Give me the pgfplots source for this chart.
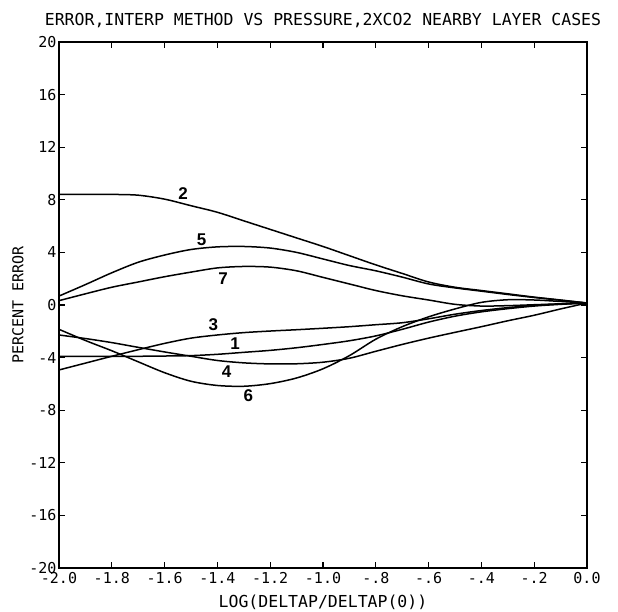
\documentclass[border=0pt]{standalone}
\usepackage{fontspec}
\setmainfont{DejaVu Sans Mono}
\newfontfamily\labfont{Liberation Sans}
\usepackage{pgfplots}
\pgfplotsset{compat=1.18}
\usetikzlibrary{calc}

\begin{document}
\begin{tikzpicture}
\begin{axis}[
  scale only axis,
  width=528pt, height=526pt,
  xmin=-2, xmax=0, ymin=-20, ymax=20,
  xtick={-2,-1.8,-1.6,-1.4,-1.2,-1,-0.8,-0.6,-0.4,-0.2,0},
  xticklabels={-2.0,-1.8,-1.6,-1.4,-1.2,-1.0,-.8,-.6,-.4,-.2,0.0},
  ytick={-20,-16,-12,-8,-4,0,4,8,12,16,20},
  yticklabels={-20,-16,-12,-8,-4,0,4,8,12,16,20},
  tick label style={font=\fontsize{15}{18}\selectfont},
  xticklabel style={yshift=-1pt},
  yticklabel style={xshift=1pt},
  major tick length=6pt,
  tick style={line width=1.2pt, black},
  axis line style={line width=1.6pt},
  title={ERROR,INTERP METHOD VS PRESSURE,2XCO2 NEARBY LAYER CASES},
  title style={font=\fontsize{16.5}{20}\selectfont, at={(axis description cs:0.5,1.03)}, anchor=center},
  xlabel={LOG(DELTAP/DELTAP(0))},
  xlabel style={font=\fontsize{16.5}{20}\selectfont, at={(axis description cs:0.5,-0.066)}, anchor=center},
  ylabel={PERCENT ERROR},
  ylabel style={font=\fontsize{15}{18}\selectfont, at={(axis description cs:-0.078,0.5)}, anchor=center},
  cycle list={{black,solid,mark=none}},
  every axis plot/.append style={line width=1.5pt, smooth},
]
% curve 2
\addplot coordinates {(-2.0,8.42) (-1.9,8.42) (-1.8,8.41) (-1.7,8.35) (-1.6,8.05) (-1.5,7.55) (-1.4,7.05) (-1.3,6.4) (-1.2,5.75) (-1.1,5.1) (-1.0,4.45) (-0.9,3.75) (-0.8,3.05) (-0.7,2.4) (-0.6,1.75) (-0.5,1.35) (-0.4,1.1) (-0.3,0.85) (-0.2,0.6) (-0.1,0.38) (0,0.15)};
% curve 5
\addplot coordinates {(-2.0,0.68) (-1.9,1.55) (-1.8,2.45) (-1.7,3.25) (-1.6,3.8) (-1.5,4.22) (-1.4,4.42) (-1.3,4.45) (-1.2,4.33) (-1.1,4.0) (-1.0,3.5) (-0.9,3.0) (-0.8,2.6) (-0.7,2.12) (-0.6,1.6) (-0.5,1.3) (-0.4,1.05) (-0.3,0.8) (-0.2,0.57) (-0.1,0.36) (0,0.15)};
% curve 7
\addplot coordinates {(-2.0,0.33) (-1.9,0.85) (-1.8,1.35) (-1.7,1.75) (-1.6,2.15) (-1.5,2.5) (-1.4,2.82) (-1.3,2.93) (-1.2,2.88) (-1.1,2.6) (-1.0,2.1) (-0.9,1.6) (-0.8,1.1) (-0.7,0.7) (-0.6,0.38) (-0.5,0.05) (-0.4,-0.08) (-0.3,-0.05) (-0.2,0.02) (-0.1,0.09) (0,0.15)};
% curve 3
\addplot coordinates {(-2.0,-4.94) (-1.9,-4.42) (-1.8,-3.9) (-1.7,-3.4) (-1.6,-2.92) (-1.5,-2.52) (-1.4,-2.28) (-1.3,-2.1) (-1.2,-1.98) (-1.1,-1.88) (-1.0,-1.77) (-0.9,-1.65) (-0.8,-1.5) (-0.7,-1.35) (-0.6,-1.05) (-0.5,-0.7) (-0.4,-0.42) (-0.3,-0.2) (-0.2,-0.03) (-0.1,0.08) (0,0.15)};
% curve 1
\addplot coordinates {(-2.0,-3.9) (-1.9,-3.9) (-1.8,-3.9) (-1.7,-3.9) (-1.6,-3.88) (-1.5,-3.85) (-1.4,-3.75) (-1.3,-3.6) (-1.2,-3.45) (-1.1,-3.25) (-1.0,-3.0) (-0.9,-2.72) (-0.8,-2.35) (-0.7,-1.85) (-0.6,-1.3) (-0.5,-0.85) (-0.4,-0.52) (-0.3,-0.28) (-0.2,-0.08) (-0.1,0.05) (0,0.15)};
% curve 4
\addplot coordinates {(-2.0,-2.28) (-1.9,-2.55) (-1.8,-2.86) (-1.7,-3.22) (-1.6,-3.57) (-1.5,-3.9) (-1.4,-4.22) (-1.3,-4.4) (-1.2,-4.48) (-1.1,-4.47) (-1.0,-4.35) (-0.9,-4.05) (-0.8,-3.52) (-0.7,-3.0) (-0.6,-2.52) (-0.5,-2.08) (-0.4,-1.65) (-0.3,-1.2) (-0.2,-0.78) (-0.1,-0.3) (0,0.15)};
% curve 6
\addplot coordinates {(-2.0,-1.85) (-1.9,-2.7) (-1.8,-3.48) (-1.7,-4.32) (-1.6,-5.15) (-1.5,-5.8) (-1.4,-6.12) (-1.3,-6.18) (-1.2,-5.98) (-1.1,-5.55) (-1.0,-4.85) (-0.9,-3.85) (-0.8,-2.6) (-0.7,-1.65) (-0.6,-0.9) (-0.5,-0.3) (-0.4,0.2) (-0.3,0.4) (-0.2,0.38) (-0.1,0.27) (0,0.15)};

\begin{scope}[every node/.style={font=\labfont\bfseries\fontsize{17}{20}\selectfont}]
\node at (axis cs:-1.53,8.5) {2};
\node at (axis cs:-1.46,5.0) {5};
\node at (axis cs:-1.378,2.03) {7};
\node at (axis cs:-1.415,-1.52) {3};
\node at (axis cs:-1.333,-2.91) {1};
\node at (axis cs:-1.365,-5.07) {4};
\node at (axis cs:-1.283,-6.9) {6};
\end{scope}
\end{axis}
\pgfresetboundingbox
\path ($(current axis.south west)+(-59pt,-44pt)$) rectangle ($(current axis.north east)+(31pt,42pt)$);
\end{tikzpicture}
\end{document}
